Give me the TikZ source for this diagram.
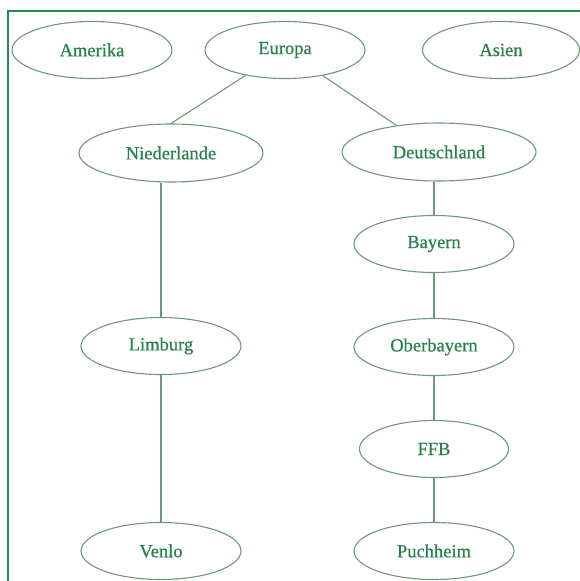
\documentclass[tikz,border=0pt]{standalone}
\usepackage{fontspec}
\setmainfont{Liberation Serif}[FakeBold=0.6]
\newfontfamily\labelfont{Liberation Serif}[FakeBold=0.6]
\usetikzlibrary{shapes.geometric}
\definecolor{txtgreen}{RGB}{40,128,76}
\definecolor{linegreen}{RGB}{110,152,124}
\definecolor{framegreen}{RGB}{40,140,80}
\begin{document}
\begin{tikzpicture}[x=1pt,y=-1pt,
  place/.style={ellipse, draw=linegreen, line width=1.1pt, inner sep=0pt,
    minimum height=57pt, text=txtgreen, font=\labelfont\fontsize{18.5}{20}\selectfont},
  link/.style={draw=linegreen, line width=1.1pt}]
\useasboundingbox (0,0) rectangle (580,581);
\draw[framegreen, line width=1.3pt] (8,581) -- (8,11) -- (580,11);
\node[place, minimum width=160pt] (Amerika) at (92,50) {Amerika};
\node[place, minimum width=160pt] (Europa) at (285,50) {Europa};
\node[place, minimum width=157pt] (Asien) at (501,50) {Asien};
\node[place, minimum width=184pt, minimum height=58pt] (Niederlande) at (171,153) {Niederlande};
\node[place, minimum width=194pt, minimum height=58pt] (Deutschland) at (439,152) {Deutschland};
\node[place, minimum width=160pt] (Bayern) at (434,244) {Bayern};
\node[place, minimum width=160pt] (Limburg) at (161,346) {Limburg};
\node[place, minimum width=160pt] (Oberbayern) at (434,347) {Oberbayern};
\node[place, minimum width=149pt] (FFB) at (434,449) {FFB};
\node[place, minimum width=160pt] (Venlo) at (161,551) {Venlo};
\node[place, minimum width=160pt] (Puchheim) at (434,551) {Puchheim};
\draw[link] (Europa) -- (Niederlande.north);
\draw[link] (Europa) -- (Deutschland.148);
\draw[link] (Limburg.north) -- (Limburg.north |- Niederlande.south);
\draw[link] (Limburg) -- (Venlo);
\draw[link] (Bayern.north) -- (Bayern.north |- Deutschland.south);
\draw[link] (Bayern) -- (Oberbayern);
\draw[link] (Oberbayern) -- (FFB);
\draw[link] (FFB) -- (Puchheim);
\end{tikzpicture}
\end{document}
